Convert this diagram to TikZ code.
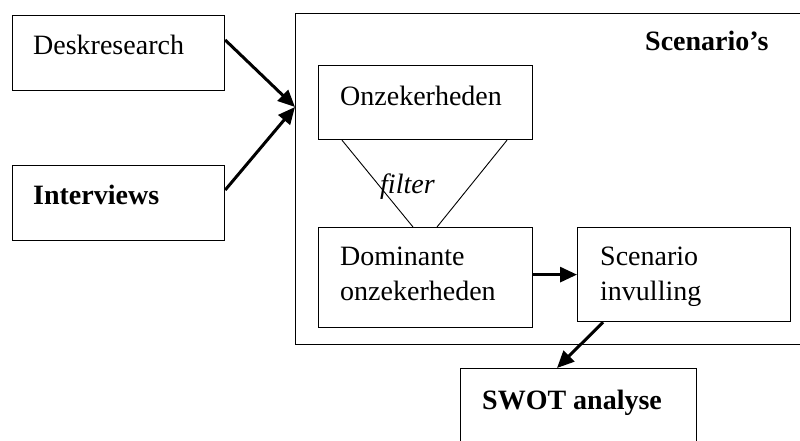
\documentclass[tikz,border=0pt]{standalone}
\usepackage{fontspec}
\setmainfont{Liberation Serif}
\usetikzlibrary{arrows.meta,calc}
\begin{document}
\begin{tikzpicture}[x=1pt,y=-1pt,
  frame/.style={draw=black,line width=1.2pt,inner sep=0pt,anchor=north west},
  label/.style={inner sep=0pt,anchor=base west,font=\fontsize{28}{35}\selectfont,align=left},
  flow/.style={draw=black,line width=3pt,-{Triangle[length=17pt,width=15pt]}},
  thin/.style={draw=black,line width=0.9pt}]
\useasboundingbox[fill=white] (0,0) rectangle (800,440);

% boxes
\node[frame,minimum width=212pt,minimum height=75pt] (desk) at (12,15) {};
\node[frame,minimum width=212pt,minimum height=75pt] (intv) at (12,165) {};
\node[frame,minimum width=507pt,minimum height=331pt] (scen) at (295,13) {};
\node[frame,minimum width=214pt,minimum height=74pt] (onz) at (318,65) {};
\node[frame,minimum width=214pt,minimum height=100pt] (dom) at (318,227) {};
\node[frame,minimum width=213pt,minimum height=94pt] (sinv) at (577,227) {};
\node[frame,minimum width=236pt,minimum height=90pt] (swot) at (460,368) {};

% texts (multi-line labels are anchored at the baseline of their last line)
\node[label] (tdesk) at (33,54) {Deskresearch};
\node[label,font=\fontsize{28}{35}\selectfont\bfseries] (tintv) at (33,204) {Interviews};
\node[label,font=\fontsize{28}{35}\selectfont\bfseries] (tscen) at (645,50) {Scenario’s};
\node[label] (tonz) at (340,105) {Onzekerheden};
\node[label] (tdom) at (340,300) {Dominante\\onzekerheden};
\node[label] (tsinv) at (600,300) {Scenario\\invulling};
\node[label,font=\fontsize{28}{35}\selectfont\bfseries] (tswot) at (482,409) {SWOT analyse};
\node[label,font=\fontsize{28}{35}\selectfont\itshape] (tfilt) at (380,193) {filter};

% connector end points
\coordinate (deskout) at ($(desk.north east)+(0,25)$);
\coordinate (intvout) at ($(intv.north east)+(0,25)$);
\coordinate (scenin) at ($(scen.north west)+(0,94)$);
\coordinate (onzl) at ($(onz.south west)+(24,0)$);
\coordinate (onzr) at ($(onz.south west)+(189,0)$);
\coordinate (doml) at ($(dom.north west)+(95,0)$);
\coordinate (domr) at ($(dom.north west)+(119,0)$);
\coordinate (sinvout) at ($(sinv.south west)+(26,0)$);
\coordinate (swotin) at ($(swot.north west)+(97,0)$);

% connectors
\draw[flow] (deskout) -- (scenin);
\draw[flow] (intvout) -- (scenin);
\draw[thin] (onzl) -- (doml);
\draw[thin] (onzr) -- (domr);
\draw[flow] (dom.east |- sinv.west) -- (sinv.west);
\draw[flow] (sinvout) -- (swotin);
\end{tikzpicture}
\end{document}
